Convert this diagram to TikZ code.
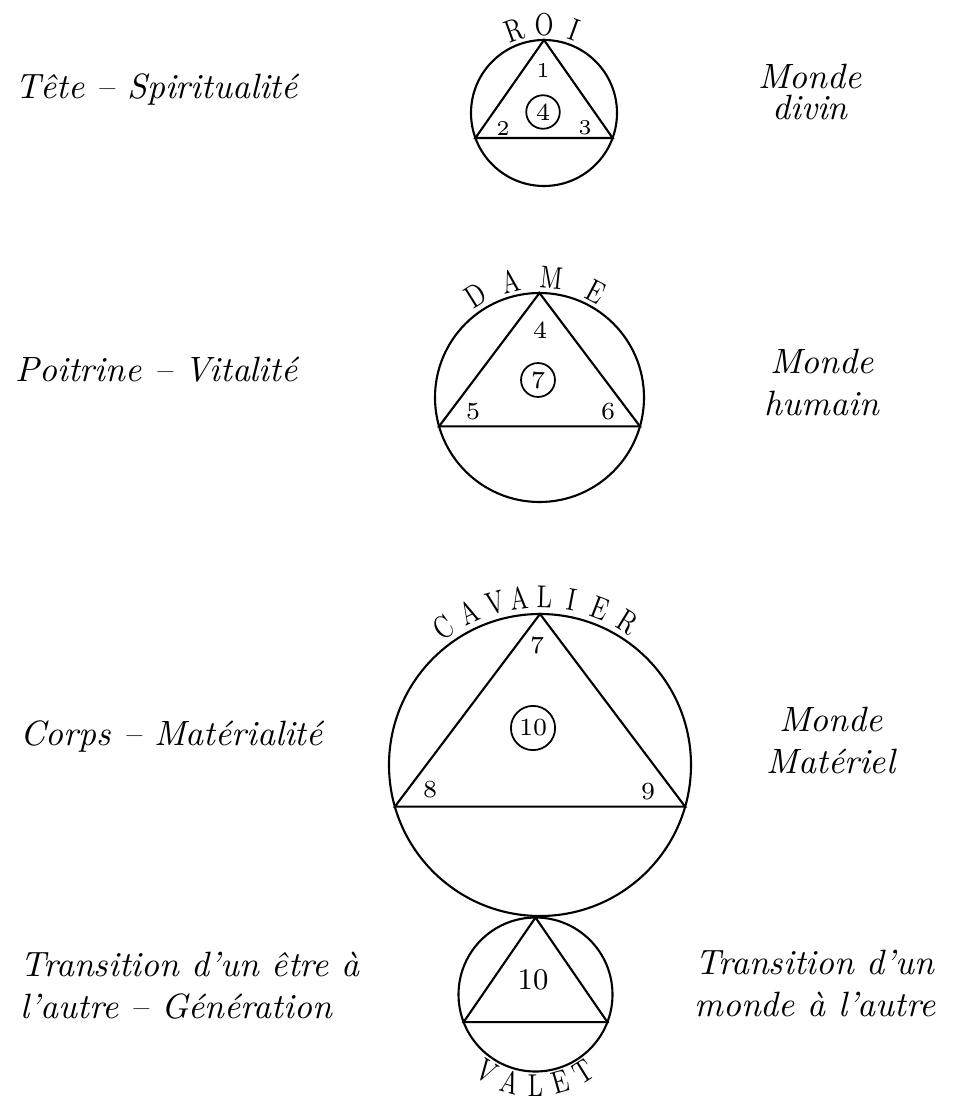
\documentclass[tikz,border=0pt]{standalone}
\usepackage{fontspec}
\usepackage{graphicx}
\newcommand{\thin}[1]{\scalebox{0.75}[1]{#1}}
\begin{document}
\begin{tikzpicture}[x=0.01cm,y=0.01cm,
    fig/.style={line width=0.6pt},
    caps/.style={font=\fontsize{9}{10}\selectfont, inner sep=0pt},
    num/.style={font=\fontsize{7}{8}\selectfont, inner sep=0pt},
    small/.style={num, font=\fontsize{6}{7}\selectfont},
    ring/.style={num, draw, circle, line width=0.5pt, inner sep=1.2pt},
    side/.style={font=\fontsize{10}{12}\selectfont\itshape, inner sep=0pt}]
\useasboundingbox (0,0) rectangle (962,-1100);

% roi
\coordinate (roi) at (544,-113);
\draw[fig] (roi) circle[radius=73];
\path (roi) ++(90:73) coordinate (roi-a)
      (roi) ++(200:73) coordinate (roi-b)
      (roi) ++(-20:73) coordinate (roi-c);
\draw[fig] (roi-a) -- (roi-b) -- (roi-c) -- cycle;
\foreach \ch/\ang [count=\i] in {R/110,O/90,I/70}
  \path (roi) ++(\ang:88) node[caps, rotate=\ang-90] (roi-\i) {\thin{\ch}};
\node[small] (roi-n1) at (543,-70) {1};
\node[ring] (roi-sum) at (543,-112) {4};
\node[small] (roi-n2) at (503,-128) {2};
\node[small] (roi-n3) at (585,-128) {3};

% dame
\coordinate (dame) at (539.5,-397.5);
\draw[fig] (dame) circle[radius=104.5];
\path (dame) ++(90:104.5) coordinate (dame-a)
      (dame) ++(196:104.5) coordinate (dame-b)
      (dame) ++(-16:104.5) coordinate (dame-c);
\draw[fig] (dame-a) -- (dame-b) -- (dame-c) -- cycle;
\foreach \ch/\ang [count=\i] in {D/122,A/104,M/84,E/62}
  \path (dame) ++(\ang:120) node[caps, rotate=\ang-90] (dame-\i) {\thin{\ch}};
\node[num] (dame-n4) at (540,-330) {4};
\node[ring] (dame-sum) at (538,-380) {7};
\node[num] (dame-n5) at (473,-412) {5};
\node[num] (dame-n6) at (608,-412) {6};

% cavalier
\coordinate (cav) at (540,-765);
\draw[fig] (cav) circle[radius=151];
\path (cav) ++(90:151) coordinate (cav-a)
      (cav) ++(196:151) coordinate (cav-b)
      (cav) ++(-16:151) coordinate (cav-c);
\draw[fig] (cav-a) -- (cav-b) -- (cav-c) -- cycle;
\foreach \ch/\ang [count=\i] in {C/125,A/115,V/105.5,A/97,L/88.5,I/79,E/69,R/58.5}
  \path (cav) ++(\ang:168) node[caps, rotate=\ang-90] (cav-\i) {\thin{\ch}};
\node[num] (cav-n7) at (537,-645) {7};
\node[ring] (cav-sum) at (533,-728) {10};
\node[num] (cav-n8) at (430,-790) {8};
\node[num] (cav-n9) at (648,-792) {9};

% valet
\coordinate (valet) at (535.5,-994.5);
\draw[fig] (valet) circle[radius=77];
\path (valet) ++(90:77) coordinate (valet-a)
      (valet) ++(201:77) coordinate (valet-b)
      (valet) ++(-21:77) coordinate (valet-c);
\draw[fig] (valet-a) -- (valet-b) -- (valet-c) -- cycle;
\foreach \ch/\ang [count=\i] in {V/238,A/254,L/270,E/286,T/302}
  \path (valet) ++(\ang:91) node[caps, rotate=\ang+90] (valet-\i) {\thin{\ch}};
\node[num, font=\fontsize{8.5}{10}\selectfont] (valet-n10) at (533,-980) {10};

% left column
\node[side, anchor=base west] (tete) at (15,-98) {Tête – Spiritualité};
\node[side, anchor=base west] (poitrine) at (15,-381) {Poitrine – Vitalité};
\node[side, anchor=base west] (corps) at (20,-745) {Corps – Matérialité};
\node[side, anchor=north west, align=left] (gen) at (20,-951)
  {Transition d’un être à\\l’autre – Génération};

% right column
\node[side, anchor=north, align=center] (divin) at (810,-63) {Monde\\[-3pt]divin};
\node[side, anchor=north, align=center] (humain) at (822,-348) {Monde\\humain};
\node[side, anchor=north, align=center] (materiel) at (831,-706) {Monde\\Matériel};
\node[side, anchor=north, align=center] (passage) at (815,-949)
  {Transition d’un\\monde à l’autre};
\end{tikzpicture}
\end{document}
